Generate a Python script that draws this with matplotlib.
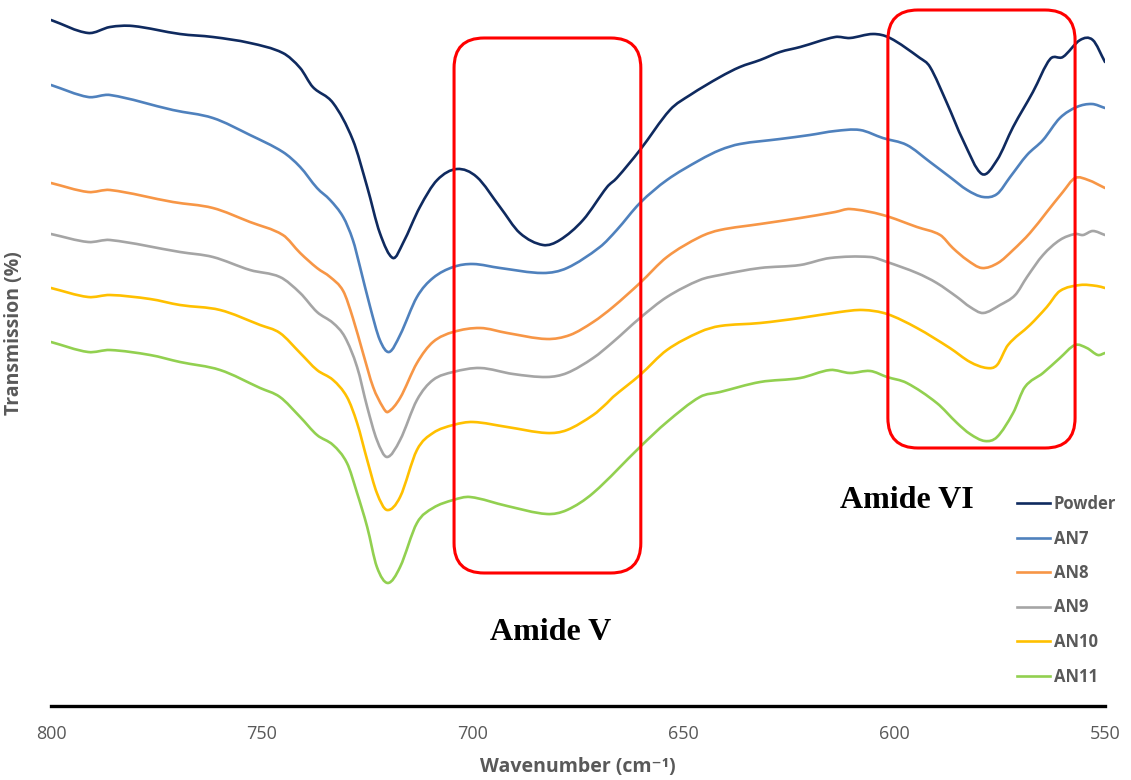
import numpy as np
import matplotlib
matplotlib.use("Agg")
import matplotlib.pyplot as plt
from matplotlib.path import Path
from matplotlib.patches import PathPatch, FancyBboxPatch
from matplotlib.lines import Line2D

# readings (wavenumber in cm-1, transmission in arbitrary units)
powder_w = [800, 791.2, 786.0, 780.6, 769.4, 761.6, 752.8, 745.0, 740.9, 737.9, 733.1, 728.4, 725.0, 722.0,
            718.9, 716.5, 712.5, 708.4, 703.7, 699.0, 693.5, 688.8, 683.3, 679.3, 673.8, 668.1, 665.8, 660.3,
            653.2, 648.4, 641.3, 636.6, 631.8, 627.1, 622.3, 614.0, 610.5, 605.0, 601.0, 593.9, 591.5, 587.5,
            583.7, 579.2, 575.6, 571.8, 567.1, 563.0, 560.0, 555.9, 552.9, 550]
powder_t = [686, 673, 679, 680, 672, 669, 663, 653, 638, 619, 603, 566, 519, 473,
            448, 463, 499, 526, 537, 529, 499, 473, 461, 466, 486, 519, 528, 556,
            596, 611, 629, 639, 646, 654, 659, 669, 668, 672, 668, 648, 639, 603,
            566, 532, 546, 579, 614, 647, 649, 666, 666, 644]

an7_w = [800, 791.2, 786.0, 771.1, 761.6, 752.8, 745.0, 740.9, 736.9, 733.8, 730.7, 728.4, 726.7, 724.3,
         722.0, 719.8, 717.2, 713.2, 709.4, 704.6, 699.9, 693.5, 683.3, 677.6, 669.8, 665.8, 660.3, 653.9,
         646.1, 641.3, 636.6, 627.1, 620.0, 614.0, 608.1, 602.7, 597.0, 591.5, 586.8, 582.7, 578.9, 575.6,
         572.5, 568.5, 564.7, 560.7, 556.7, 553.1, 550]
an7_t = [621, 609, 611, 596, 588, 571, 554, 539, 518, 506, 489, 466, 439, 399,
         366, 354, 371, 409, 428, 439, 442, 438, 433, 438, 459, 476, 503, 526,
         546, 556, 562, 567, 571, 575, 576, 568, 561, 544, 529, 516, 509, 512,
         529, 551, 566, 588, 599, 602, 598]

an8_w = [800, 791.2, 786.0, 771.1, 761.6, 752.8, 745.0, 740.9, 736.9, 733.8, 730.7, 728.4, 726.0, 723.6,
         721.3, 720.1, 717.2, 713.2, 709.4, 704.6, 698.2, 691.8, 682.4, 676.9, 671.4, 666.7, 660.3, 653.9,
         646.1, 641.3, 631.8, 622.3, 614.0, 610.5, 602.7, 594.6, 589.1, 586.1, 582.7, 579.2, 575.4, 571.8,
         567.8, 563.8, 560.0, 557.1, 554.0, 550]
an8_t = [523, 514, 516, 504, 498, 484, 471, 453, 438, 429, 415, 388, 353, 319,
         299, 294, 308, 343, 364, 374, 378, 373, 367, 371, 384, 399, 423, 449,
         469, 476, 482, 488, 494, 497, 491, 479, 471, 458, 446, 438, 443, 456,
         473, 494, 514, 528, 526, 518]

an9_w = [800, 791.2, 786.0, 769.4, 761.6, 752.8, 745.7, 740.9, 736.9, 733.1, 730.3, 727.4, 725.0, 722.7,
         720.3, 717.2, 713.2, 709.4, 704.6, 698.2, 690.4, 682.4, 677.6, 671.4, 666.7, 660.3, 653.9, 646.1,
         641.3, 631.8, 622.3, 615.2, 605.7, 601.7, 594.6, 589.9, 585.1, 582.0, 578.9, 574.9, 571.3, 568.5,
         564.7, 560.7, 557.1, 555.2, 552.9, 550]
an9_t = [472, 464, 466, 454, 449, 436, 429, 413, 394, 383, 369, 339, 299, 266,
         249, 266, 306, 326, 334, 338, 332, 329, 333, 348, 364, 388, 409, 426,
         431, 438, 441, 448, 449, 444, 433, 423, 409, 399, 393, 401, 411, 429,
         451, 466, 472, 471, 475, 471]

an10_w = [800, 791.2, 786.0, 776.5, 769.4, 759.9, 750.4, 745.7, 740.9, 736.9, 733.1, 729.8, 727.4, 725.0,
          722.7, 720.3, 717.2, 713.2, 709.4, 704.6, 699.9, 691.8, 682.4, 677.6, 671.4, 668.1, 666.7, 660.3,
          653.9, 646.1, 641.3, 631.8, 622.3, 612.9, 607.4, 601.7, 594.6, 586.8, 582.0, 578.0, 575.6, 573.0,
          567.8, 563.8, 560.7, 555.9, 551.9, 550]
an10_t = [418, 409, 411, 407, 401, 396, 381, 373, 353, 336, 326, 309, 283, 246,
          213, 196, 209, 256, 273, 281, 284, 279, 273, 276, 291, 303, 309, 331,
          356, 374, 380, 383, 388, 394, 396, 392, 378, 358, 344, 338, 341, 361,
          381, 399, 415, 421, 420, 418]

an11_w = [800, 791.2, 786.0, 776.5, 769.4, 759.9, 750.4, 745.7, 740.9, 736.9, 733.1, 729.8, 727.4, 725.0,
          722.7, 720.1, 717.2, 713.2, 709.4, 704.6, 700.6, 691.8, 682.4, 677.6, 671.4, 660.3, 653.9, 646.1,
          641.3, 631.8, 622.3, 615.2, 610.5, 605.7, 601.7, 597.0, 589.9, 585.1, 582.0, 578.5, 575.6, 571.8,
          569.0, 564.7, 560.7, 557.1, 554.3, 551.7, 550]
an11_t = [364, 354, 356, 351, 344, 336, 318, 309, 289, 271, 261, 243, 213, 179,
          139, 123, 139, 183, 198, 206, 209, 200, 192, 196, 213, 259, 284, 309,
          314, 324, 328, 336, 333, 335, 329, 323, 303, 283, 272, 265, 269, 293,
          319, 333, 348, 361, 358, 351, 353]

labels = ["Powder", "AN7", "AN8", "AN9", "AN10", "AN11"]
colors = ["#0F2A5F", "#4F81BD", "#F79646", "#A5A5A5", "#FFC000", "#92D050"]
series = [(powder_w, powder_t), (an7_w, an7_t), (an8_w, an8_t),
          (an9_w, an9_t), (an10_w, an10_t), (an11_w, an11_t)]


def smooth_path(x, y):
    # cubic hermite through the points, like a "smoothed line" in a spreadsheet
    x = np.asarray(x, float)
    y = np.asarray(y, float)
    n = len(x)
    m = np.empty(n)
    m[0] = (y[1] - y[0]) / (x[1] - x[0])
    m[-1] = (y[-1] - y[-2]) / (x[-1] - x[-2])
    m[1:-1] = (y[2:] - y[:-2]) / (x[2:] - x[:-2])
    verts = [(x[0], y[0])]
    codes = [Path.MOVETO]
    for i in range(n - 1):
        dx = x[i + 1] - x[i]
        verts += [(x[i] + dx / 3, y[i] + m[i] * dx / 3),
                  (x[i + 1] - dx / 3, y[i + 1] - m[i + 1] * dx / 3),
                  (x[i + 1], y[i + 1])]
        codes += [Path.CURVE4] * 3
    return Path(verts, codes)


fig = plt.figure(figsize=(11.31, 7.80), dpi=100)
ax = fig.add_axes([51 / 1131, 74 / 780, 1054 / 1131, 701 / 780])

for (w, t), c in zip(series, colors):
    ax.add_patch(PathPatch(smooth_path(w, t), fill=False, edgecolor=c, lw=1.9,
                           capstyle="round", joinstyle="round"))

ax.set_xlim(800, 550)
ax.set_ylim(0, 701)

# highlighted regions
px_x = 250 / 1054  # cm-1 per pixel
for x0, x1, y0, y1 in [(660.1, 704.4, 133, 668), (557.1, 601.5, 258, 696)]:
    ax.add_patch(FancyBboxPatch((x0, y0), x1 - x0, y1 - y0,
                                boxstyle="round,pad=0,rounding_size=%f" % (30 * px_x),
                                mutation_aspect=1 / px_x, fill=False,
                                edgecolor="#FF0000", lw=2.2, zorder=5))

ax.text(681.4, 74, "Amide V", ha="center", va="center", fontsize=23,
        fontweight="bold", family=["Liberation Serif", "DejaVu Serif"], color="black")
ax.text(597.0, 206, "Amide VI", ha="center", va="center", fontsize=23,
        fontweight="bold", family=["Liberation Serif", "DejaVu Serif"], color="black")

sans = ["Open Sans", "DejaVu Sans"]
for s in ["top", "left", "right"]:
    ax.spines[s].set_visible(False)
ax.spines["bottom"].set_linewidth(2.4)
ax.spines["bottom"].set_color("black")
ax.set_yticks([])
ax.set_xticks([800, 750, 700, 650, 600, 550])
ax.tick_params(axis="x", length=0, pad=14, labelsize=13, labelcolor="#595959")
for lab in ax.get_xticklabels():
    lab.set_family(sans)

ax.set_xlabel("Wavenumber (cm\u207b\u00b9)", fontsize=14, color="#595959",
              fontweight="bold", family=sans, labelpad=10)
ax.set_ylabel("Transmission (%)", fontsize=14, color="#595959",
              fontweight="bold", family=sans)
ax.yaxis.set_label_coords(-0.0256, 0.532)

handles = [Line2D([], [], color=c, lw=1.9) for c in colors]
leg = ax.legend(handles, labels, loc="upper left", bbox_to_anchor=(1017 / 1131, 1 - 495 / 780),
                bbox_transform=fig.transFigure, frameon=False, borderpad=0, borderaxespad=0,
                handlelength=2.0, handletextpad=0.2, labelspacing=0.99,
                prop={"family": sans, "weight": "bold", "size": 12})
for txt in leg.get_texts():
    txt.set_color("#595959")

fig.savefig("out.png", dpi=100)
